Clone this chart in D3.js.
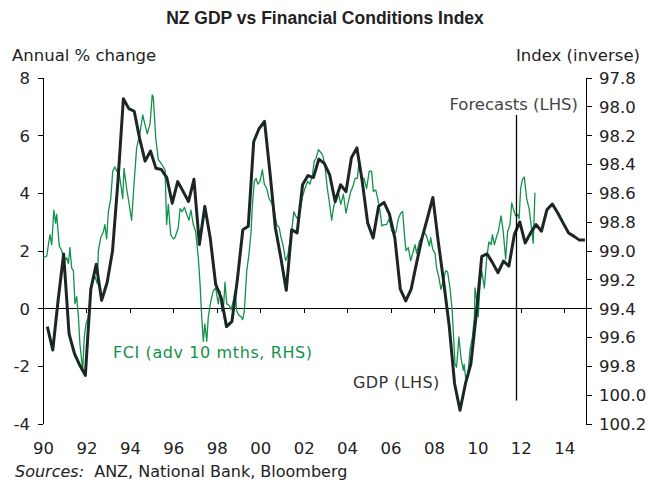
<!DOCTYPE html>
<html>
<head>
<meta charset="utf-8" />
<title>NZ GDP vs Financial Conditions Index</title>
<style>
body { margin: 0; background: #fff; }
svg { display: block; }
svg text { font-family: "DejaVu Sans", Verdana, sans-serif; fill: #222; }
.axis text { font-size: 16.5px; fill: #222; }
.axis path, .axis line { stroke: #000; stroke-width: 1px; shape-rendering: crispEdges; }
</style>
<script src="https://d3js.org/d3.v7.min.js" charset="utf-8"></script>
</head>
<body>
<svg class="chart" width="649" height="482"></svg>

<script>
var chartWidth = 649;
var chartHeight = 482;

/********
 * Data *
 ********/

// GDP, annual % change, quarterly from Q1 1990 (LHS) - incl. forecasts
var gdpStartYear = 1990;
var gdpValues = [
  -0.64, -1.45, 0.30, 1.88, -0.89, -1.58, -1.99, -2.33, 0.65, 1.52,
  0.27, 0.88, 1.98, 4.40, 7.26, 6.92, 6.83, 5.88, 5.10, 5.45,
  4.85, 4.81, 4.53, 3.64, 4.39, 4.05, 3.70, 4.47, 2.21, 3.53,
  2.43, 0.83, 0.37, -0.64, -0.46, 1.00, 2.72, 2.84, 5.77, 6.23,
  6.48, 4.70, 2.78, 1.75, 0.62, 2.72, 2.61, 4.28, 4.60, 4.53,
  5.17, 5.02, 4.62, 3.70, 4.28, 4.04, 5.22, 5.56, 4.39, 2.95,
  2.43, 3.53, 3.67, 3.26, 2.43, 0.66, 0.25, 0.66, 1.57, 2.43,
  3.12, 3.84, 2.30, 0.90, -0.60, -2.62, -3.54, -2.62, -1.93, -0.20,
  1.80, 1.88, 1.57, 1.23, 1.63, 1.46, 2.55, 2.99, 2.26, 2.61,
  2.90, 2.67, 3.41, 3.61, 3.30, 2.95, 2.61, 2.49, 2.36, 2.36
];

// FCI index (inverse, RHS), advanced 10 months
var fciDates = [
  1990.01, 1990.17, 1990.32, 1990.40, 1990.50, 1990.58, 1990.63, 1990.75, 1990.86, 1990.97,
  1991.09, 1991.17, 1991.24, 1991.32, 1991.40, 1991.47, 1991.55, 1991.63, 1991.70, 1991.83,
  1991.90, 1991.98, 1992.09, 1992.24, 1992.39, 1992.50, 1992.55, 1992.66, 1992.78, 1992.85,
  1992.93, 1993.01, 1993.12, 1993.21, 1993.31, 1993.39, 1993.47, 1993.58, 1993.67, 1993.73,
  1993.85, 1993.97, 1994.08, 1994.19, 1994.31, 1994.47, 1994.59, 1994.70, 1994.80, 1994.93,
  1995.03, 1995.08, 1995.19, 1995.31, 1995.46, 1995.62, 1995.69, 1995.77, 1995.88, 1996.00,
  1996.08, 1996.23, 1996.31, 1996.41, 1996.51, 1996.62, 1996.72, 1996.81, 1996.92, 1997.03,
  1997.15, 1997.23, 1997.30, 1997.38, 1997.45, 1997.54, 1997.61, 1997.73, 1997.84, 1997.95,
  1998.07, 1998.15, 1998.23, 1998.32, 1998.38, 1998.46, 1998.56, 1998.66, 1998.76, 1998.84,
  1998.92, 1999.02, 1999.12, 1999.19, 1999.27, 1999.38, 1999.48, 1999.58, 1999.64, 1999.73,
  1999.81, 1999.89, 1999.99, 2000.10, 2000.19, 2000.30, 2000.41, 2000.53, 2000.65, 2000.76,
  2000.87, 2000.96, 2001.06, 2001.17, 2001.26, 2001.37, 2001.45, 2001.55, 2001.63, 2001.72,
  2001.83, 2001.94, 2002.06, 2002.19, 2002.29, 2002.40, 2002.49, 2002.57, 2002.68, 2002.79,
  2002.88, 2002.98, 2003.09, 2003.18, 2003.29, 2003.40, 2003.49, 2003.60, 2003.71, 2003.83,
  2003.95, 2004.06, 2004.17, 2004.26, 2004.37, 2004.47, 2004.56, 2004.67, 2004.78, 2004.90,
  2005.02, 2005.13, 2005.21, 2005.32, 2005.41, 2005.52, 2005.60, 2005.70, 2005.82, 2005.94,
  2006.05, 2006.16, 2006.25, 2006.36, 2006.47, 2006.56, 2006.64, 2006.71, 2006.82, 2006.93,
  2007.02, 2007.13, 2007.20, 2007.32, 2007.43, 2007.54, 2007.66, 2007.79, 2007.85, 2007.94,
  2008.05, 2008.12, 2008.23, 2008.32, 2008.43, 2008.54, 2008.63, 2008.74, 2008.84, 2008.97,
  2009.04, 2009.15, 2009.24, 2009.35, 2009.39, 2009.47, 2009.55, 2009.66, 2009.77, 2009.86,
  2009.89, 2009.97, 2010.04, 2010.12, 2010.20, 2010.32, 2010.43, 2010.53, 2010.63, 2010.69,
  2010.78, 2010.89, 2010.96, 2011.09, 2011.19, 2011.30, 2011.39, 2011.50, 2011.58, 2011.65,
  2011.76, 2011.86, 2011.92, 2011.99, 2012.07, 2012.16, 2012.27, 2012.38, 2012.47, 2012.57,
  2012.65
];
var fciValues = [
  99.05, 99.04, 98.89, 98.96, 98.72, 98.81, 98.75, 98.97, 99.00, 99.07,
  99.05, 99.09, 98.98, 99.12, 99.14, 99.37, 99.32, 99.46, 99.65, 99.83,
  99.60, 99.51, 99.46, 99.23, 99.18, 99.23, 99.00, 98.91, 98.87, 98.82,
  98.92, 98.73, 98.64, 98.45, 98.42, 98.45, 98.43, 98.54, 98.64, 98.43,
  98.57, 98.68, 98.79, 98.54, 98.29, 98.18, 98.06, 98.13, 98.19, 98.12,
  97.92, 97.94, 98.22, 98.37, 98.40, 98.44, 98.82, 98.68, 98.89, 98.92,
  98.91, 98.84, 98.71, 98.73, 98.70, 98.75, 98.79, 98.72, 98.82, 98.87,
  99.05, 99.23, 99.44, 99.63, 99.51, 99.63, 99.46, 99.35, 99.28, 99.26,
  99.37, 99.28, 99.42, 99.37, 99.22, 99.37, 99.38, 99.41, 99.35, 99.28,
  99.42, 99.45, 99.46, 99.48, 99.42, 99.14, 99.03, 98.87, 98.68, 98.52,
  98.50, 98.54, 98.52, 98.44, 98.54, 98.57, 98.64, 98.67, 98.73, 98.82,
  98.84, 98.91, 98.97, 99.07, 99.04, 98.94, 98.86, 98.73, 98.76, 98.78,
  98.73, 98.63, 98.57, 98.52, 98.54, 98.48, 98.38, 98.36, 98.30, 98.32,
  98.34, 98.41, 98.57, 98.66, 98.79, 98.68, 98.66, 98.60, 98.68, 98.61,
  98.74, 98.66, 98.59, 98.56, 98.50, 98.50, 98.37, 98.50, 98.50, 98.57,
  98.45, 98.45, 98.59, 98.58, 98.64, 98.73, 98.83, 98.82, 98.82, 98.78,
  98.86, 98.89, 98.87, 98.78, 98.74, 98.73, 98.89, 99.00, 98.98, 99.07,
  99.02, 98.96, 99.02, 98.94, 98.91, 98.87, 98.90, 98.97, 98.91, 98.99,
  99.02, 99.12, 99.19, 99.27, 99.21, 99.14, 99.15, 99.26, 99.42, 99.79,
  99.81, 99.60, 99.74, 99.83, 99.79, 99.90, 99.88, 99.69, 99.60, 99.46,
  99.26, 99.35, 99.46, 99.23, 99.14, 99.26, 99.05, 98.94, 98.96, 98.89,
  98.96, 98.90, 98.87, 98.76, 98.87, 99.06, 98.87, 98.82, 98.67, 98.71,
  98.76, 98.75, 98.78, 98.57, 98.51, 98.49, 98.64, 98.71, 98.82, 98.95,
  98.60
];

// axes ticks
var leftTicks = [-4, -2, 0, 2, 4, 6, 8];
var rightTicks = [97.8, 98.0, 98.2, 98.4, 98.6, 98.8, 99.0, 99.2, 99.4, 99.6, 99.8, 100.0, 100.2];
var yearTicks = [1990, 1992, 1994, 1996, 1998, 2000, 2002, 2004, 2006, 2008, 2010, 2012, 2014];

var forecastStart = 2011.8;

/**********
 * Scales *
 **********/

var x = d3.scaleLinear().domain([1990, 2015]).range([43, 586]);
var yL = d3.scaleLinear().domain([-4, 8]).range([423.5, 77.5]);
var yR = d3.scaleLinear().domain([100.2, 97.8]).range([423.5, 77.5]);

var gdp = gdpValues.map(function(v, i) {
  return { t: gdpStartYear + 0.2 + i * 0.25, v: v };
});
var fci = fciValues.map(function(v, i) {
  return { t: fciDates[i], v: v };
});

var svg = d3.select(".chart");

/********
 * Axes *
 ********/

var leftAxis = svg.append("g")
    .attr("class", "axis")
    .attr("transform", "translate(" + x(1990) + ",0)")
    .call(d3.axisLeft(yL).tickValues(leftTicks).tickSize(5).tickSizeOuter(0).tickPadding(8)
      .tickFormat(function(d) { return d; }));
leftAxis.selectAll("text").attr("dy", "0.36em");

var rightAxis = svg.append("g")
    .attr("class", "axis")
    .attr("transform", "translate(" + x(2015) + ",0)")
    .call(d3.axisRight(yR).tickValues(rightTicks).tickSize(6).tickSizeOuter(0).tickPadding(7)
      .tickFormat(d3.format(".1f")));
rightAxis.selectAll("text").attr("dy", "0.36em");

// zero line with year ticks
svg.append("g")
    .attr("class", "axis")
    .attr("transform", "translate(0," + yL(0) + ")")
    .call(d3.axisBottom(x).tickValues(yearTicks.slice(1)).tickSize(5).tickSizeOuter(0)
      .tickFormat(""));

// year labels
var yearAxis = svg.append("g")
    .attr("class", "axis")
    .attr("transform", "translate(0,442)")
    .call(d3.axisBottom(x).tickValues(yearTicks).tickSize(0).tickPadding(0)
      .tickFormat(function(d) { return String(d).slice(2); }));
yearAxis.select(".domain").remove();
yearAxis.selectAll("text").attr("dy", "0.72em").attr("y", 0);

/*********
 * Lines *
 *********/

var fciLine = d3.line()
    .x(function(d) { return x(d.t); })
    .y(function(d) { return yR(d.v); });

var gdpLine = d3.line()
    .x(function(d) { return x(d.t); })
    .y(function(d) { return yL(d.v); });

svg.append("path")
    .datum(fci)
    .attr("d", fciLine)
    .attr("fill", "none")
    .attr("stroke", "#12914a")
    .attr("stroke-width", 1.3)
    .attr("stroke-linejoin", "round");

svg.append("path")
    .datum(gdp)
    .attr("d", gdpLine)
    .attr("fill", "none")
    .attr("stroke", "#1c2626")
    .attr("stroke-width", 3)
    .attr("stroke-linejoin", "round");

// forecast marker
svg.append("line")
    .attr("x1", x(forecastStart)).attr("x2", x(forecastStart))
    .attr("y1", yL(6.7)).attr("y2", yL(-3.2))
    .attr("stroke", "#000")
    .attr("stroke-width", 1.3);

/**********
 * Labels *
 **********/

svg.append("text")
    .text("NZ GDP vs Financial Conditions Index")
    .attr("x", 325)
    .attr("y", 24)
    .style("font-family", "'Liberation Sans', Arial, sans-serif")
    .style("font-weight", "bold")
    .style("font-size", "17.5px")
    .style("text-anchor", "middle");

svg.append("text")
    .text("Annual % change")
    .attr("x", 12)
    .attr("y", 61)
    .style("font-size", "16.5px");

svg.append("text")
    .text("Index (inverse)")
    .attr("x", 640)
    .attr("y", 61)
    .style("font-size", "16.5px")
    .style("text-anchor", "end");

svg.append("text")
    .text("Forecasts (LHS)")
    .attr("x", 578)
    .attr("y", 109.5)
    .style("font-size", "16.5px")
    .style("fill", "#444")
    .style("text-anchor", "end");

svg.append("text")
    .text("FCI (adv 10 mths, RHS)")
    .attr("x", 113)
    .attr("y", 358)
    .style("font-size", "16px")
    .style("letter-spacing", "0.6px")
    .style("fill", "#12914a");

svg.append("text")
    .text("GDP (LHS)")
    .attr("x", 353)
    .attr("y", 388)
    .style("font-size", "16px")
    .style("letter-spacing", "0.4px")
    .style("fill", "#333");

var src = svg.append("text")
    .attr("x", 15)
    .attr("y", 477)
    .style("font-size", "16px");
src.append("tspan").text("Sources:").style("font-style", "italic");
src.append("tspan").text("  ANZ, National Bank, Bloomberg").attr("xml:space", "preserve");
</script>
</body>
</html>
